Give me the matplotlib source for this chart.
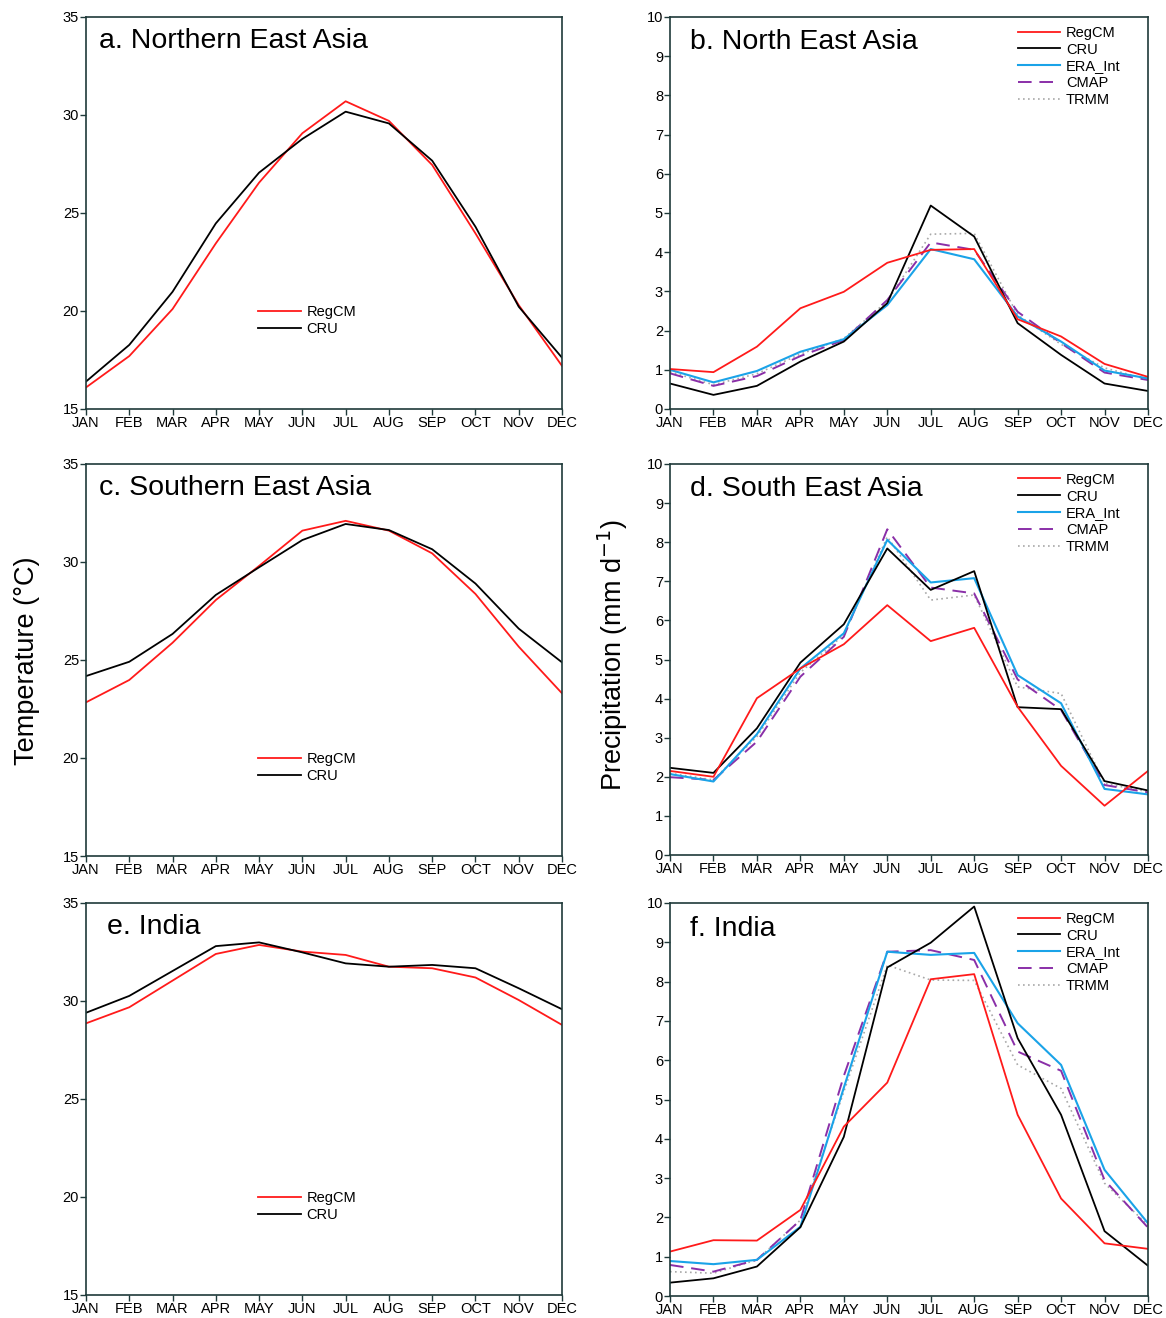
import matplotlib
matplotlib.use("Agg")
import matplotlib.pyplot as plt

months = ["JAN", "FEB", "MAR", "APR", "MAY", "JUN", "JUL", "AUG", "SEP", "OCT", "NOV", "DEC"]

# Temperature (°C)
nea_t_regcm = [16.1, 17.7, 20.1, 23.45, 26.55, 29.07, 30.7, 29.7, 27.45, 23.96, 20.3, 17.2]
nea_t_cru = [16.4, 18.27, 20.98, 24.47, 27.06, 28.78, 30.17, 29.57, 27.67, 24.3, 20.22, 17.62]
sea_t_regcm = [22.84, 23.98, 25.88, 28.06, 29.8, 31.6, 32.1, 31.6, 30.44, 28.37, 25.68, 23.3]
sea_t_cru = [24.18, 24.91, 26.33, 28.32, 29.73, 31.12, 31.94, 31.63, 30.65, 28.9, 26.6, 24.88]
ind_t_regcm = [28.86, 29.68, 31.04, 32.4, 32.86, 32.52, 32.35, 31.75, 31.67, 31.2, 30.05, 28.78]
ind_t_cru = [29.4, 30.26, 31.53, 32.8, 32.99, 32.48, 31.92, 31.75, 31.84, 31.67, 30.65, 29.58]

# Precipitation (mm/day)
nea_p_regcm = [1.02, 0.94, 1.59, 2.57, 2.99, 3.73, 4.06, 4.08, 2.29, 1.85, 1.15, 0.82]
nea_p_cru = [0.65, 0.36, 0.59, 1.21, 1.72, 2.70, 5.19, 4.40, 2.19, 1.38, 0.65, 0.46]
nea_p_era = [1.00, 0.68, 0.97, 1.46, 1.78, 2.65, 4.08, 3.82, 2.36, 1.72, 0.98, 0.78]
nea_p_cmap = [0.91, 0.59, 0.84, 1.35, 1.76, 2.78, 4.25, 4.06, 2.48, 1.68, 0.93, 0.74]
nea_p_trmm = [0.95, 0.62, 0.90, 1.40, 1.80, 2.75, 4.46, 4.48, 2.40, 1.65, 1.05, 0.75]

sea_p_regcm = [2.15, 2.00, 4.01, 4.77, 5.39, 6.39, 5.47, 5.81, 3.79, 2.28, 1.26, 2.15]
sea_p_cru = [2.23, 2.10, 3.24, 4.92, 5.90, 7.84, 6.78, 7.26, 3.78, 3.73, 1.89, 1.65]
sea_p_era = [2.07, 1.88, 3.09, 4.77, 5.67, 8.06, 6.97, 7.08, 4.60, 3.88, 1.69, 1.55]
sea_p_cmap = [1.99, 1.92, 2.90, 4.56, 5.58, 8.33, 6.84, 6.69, 4.49, 3.71, 1.79, 1.60]
sea_p_trmm = [2.09, 1.92, 3.03, 4.67, 5.63, 8.14, 6.52, 6.65, 4.30, 4.13, 1.83, 1.62]

ind_p_regcm = [1.13, 1.42, 1.41, 2.19, 4.31, 5.43, 8.06, 8.19, 4.61, 2.48, 1.34, 1.20]
ind_p_cru = [0.34, 0.45, 0.75, 1.75, 4.05, 8.36, 8.99, 9.91, 6.56, 4.61, 1.65, 0.77]
ind_p_era = [0.89, 0.81, 0.92, 1.76, 5.30, 8.76, 8.68, 8.73, 6.94, 5.88, 3.21, 1.85]
ind_p_cmap = [0.79, 0.62, 0.92, 1.93, 5.60, 8.76, 8.80, 8.55, 6.22, 5.73, 2.95, 1.74]
ind_p_trmm = [0.62, 0.58, 0.92, 1.93, 5.20, 8.42, 8.04, 8.03, 5.88, 5.28, 2.87, 1.80]

temp_titles = ["a. Northern East Asia", "c. Southern East Asia", "e. India"]
prec_titles = ["b. North East Asia", "d. South East Asia", "f. India"]
temp_ticks = [15, 20, 25, 30, 35]
prec_ticks = list(range(0, 11))

plt.rcParams['font.family'] = ['Liberation Sans', 'DejaVu Sans']

C_REG = '#ff1a1a'
C_CRU = '#000000'
C_ERA = '#1aa3e8'
C_CMAP = '#8a2fa8'
C_TRMM = '#a8a8a8'
SPINE = '#1f3a3a'

W, H = 1166, 1318
fig = plt.figure(figsize=(W / 100, H / 100), dpi=100)

x = list(range(12))

def style(ax, yticks):
    ax.set_xlim(0, 11)
    ax.set_ylim(yticks[0], yticks[-1])
    ax.set_xticks(x)
    ax.set_xticklabels(months)
    ax.set_yticks(yticks)
    ax.tick_params(axis='both', direction='out', length=4, width=1, color=SPINE,
                   labelsize=10.5, pad=1)
    for s in ax.spines.values():
        s.set_color(SPINE)
        s.set_linewidth(1.2)

def box(left_px, top_px, right_px, bottom_px):
    return [left_px / W, 1 - bottom_px / H, (right_px - left_px) / W, (bottom_px - top_px) / H]

left_boxes = [box(86, 17, 562, 409), box(86, 464, 562, 856), box(86, 903, 562, 1295)]
right_boxes = [box(670, 17, 1148, 409), box(670, 464, 1148, 855), box(670, 903, 1148, 1296)]

temp_data = [(nea_t_regcm, nea_t_cru), (sea_t_regcm, sea_t_cru), (ind_t_regcm, ind_t_cru)]
prec_data = [
    (nea_p_regcm, nea_p_cru, nea_p_era, nea_p_cmap, nea_p_trmm),
    (sea_p_regcm, sea_p_cru, sea_p_era, sea_p_cmap, sea_p_trmm),
    (ind_p_regcm, ind_p_cru, ind_p_era, ind_p_cmap, ind_p_trmm),
]
title_x = [0.028, 0.028, 0.045]

for i in range(3):
    ax = fig.add_axes(left_boxes[i])
    reg, cru = temp_data[i]
    ax.plot(x, reg, color=C_REG, lw=1.3, label='RegCM')
    ax.plot(x, cru, color=C_CRU, lw=1.3, label='CRU')
    style(ax, temp_ticks)
    ax.text(title_x[i], 0.94, temp_titles[i], transform=ax.transAxes, fontsize=20.5,
            ha='left', va='center')
    ax.legend(loc='upper left', bbox_to_anchor=(0.362, 0.266), frameon=False,
              fontsize=10.5, handlelength=2.9, handletextpad=0.4, labelspacing=0.2,
              borderpad=0, borderaxespad=0)

    ax2 = fig.add_axes(right_boxes[i])
    reg, cru, era, cmap, trmm = prec_data[i]
    ax2.plot(x, trmm, color=C_TRMM, lw=1.2, ls=(0, (1, 2)), label='TRMM')
    ax2.plot(x, cmap, color=C_CMAP, lw=1.4, ls=(0, (7, 4)), label='CMAP')
    ax2.plot(x, era, color=C_ERA, lw=1.5, label='ERA_Int')
    ax2.plot(x, cru, color=C_CRU, lw=1.3, label='CRU')
    ax2.plot(x, reg, color=C_REG, lw=1.3, label='RegCM')
    style(ax2, prec_ticks)
    ax2.text(0.042, 0.935, prec_titles[i], transform=ax2.transAxes, fontsize=20.5,
             ha='left', va='center')
    h, l = ax2.get_legend_handles_labels()
    order = [4, 3, 2, 1, 0]
    ax2.legend([h[k] for k in order], [l[k] for k in order], loc='upper left',
               bbox_to_anchor=(0.728, 0.978), frameon=False, fontsize=10.5,
               handlelength=2.9, handletextpad=0.4, labelspacing=0.2,
               borderpad=0, borderaxespad=0)

fig.text(27 / W, 1 - 661 / H, 'Temperature (°C)', rotation=90, fontsize=19.5,
         ha='center', va='center')
fig.text(613 / W, 1 - 655 / H, 'Precipitation (mm d$^{-1}$)', rotation=90, fontsize=19.5,
         ha='center', va='center')

fig.savefig('out.png', dpi=100)
